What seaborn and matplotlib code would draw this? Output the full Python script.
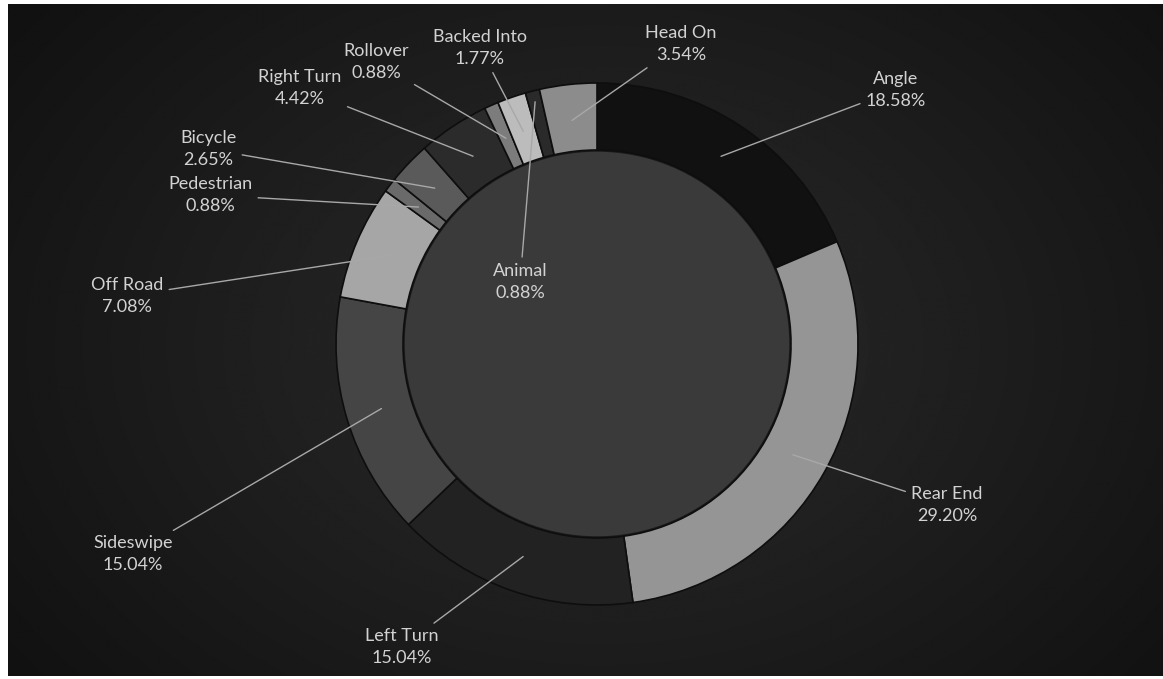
import numpy as np
import seaborn as sns
import matplotlib.pyplot as plt
from matplotlib.patches import Circle

# crash types, clockwise from 12 o'clock
categories = ["Angle", "Rear End", "Left Turn", "Sideswipe", "Off Road", "Pedestrian",
              "Bicycle", "Right Turn", "Rollover", "Backed Into", "Animal", "Head On"]
percents = [18.58, 29.20, 15.04, 15.04, 7.08, 0.88, 2.65, 4.42, 0.88, 1.77, 0.88, 3.54]

# grayscale fills
colors = ["#111111", "#959595", "#222222", "#454545", "#a6a6a6", "#6a6a6a",
          "#5a5a5a", "#2b2b2b", "#7c7c7c", "#bcbcbc", "#2a2a2a", "#8c8c8c"]

# label centres in image pixels (x, y from top)
label_pos = [(896, 90), (947, 505), (402, 647), (133, 554), (127, 296), (210, 195),
             (208, 149), (300, 88), (376, 62), (480, 48), (520, 282), (681, 44)]

W, H = 1163, 679
cx, cy = 597, 344
r_out, ring = 261, 67

sns.set_theme(style="dark")
plt.rcParams['font.family'] = ['Lato', 'DejaVu Sans']

fig = plt.figure(figsize=(W / 100, H / 100), dpi=100)
fig.set_facecolor('white')
ax = fig.add_axes([0, 0, 1, 1])
ax.set_facecolor('white')

# dark background with a soft lighter middle
yy, xx = np.mgrid[0:H, 0:W]
d = np.sqrt(((xx - cx) / 650.0) ** 2 + ((yy - cy) / 480.0) ** 2)
bg = np.clip(0.17 - 0.09 * d, 0.07, 0.2)
ax.imshow(bg, cmap='gray', vmin=0, vmax=1, extent=(8, W, 3, H - 4),
          origin='upper', zorder=0, interpolation='bilinear')

wedges, _ = ax.pie(percents, colors=colors, startangle=90, counterclock=False,
                   radius=r_out, center=(cx, H - cy),
                   wedgeprops=dict(width=ring, edgecolor='#0e0e0e', linewidth=1.2))
for w in wedges:
    w.set_zorder(2)

ax.add_patch(Circle((cx, H - cy), r_out - ring, facecolor='#3a3a3a',
                    edgecolor='#1a1a1a', linewidth=2.5, zorder=1.5))

for w, name, pct, (lx, ly) in zip(wedges, categories, percents, label_pos):
    theta = np.deg2rad((w.theta1 + w.theta2) / 2)
    r = 250 if name == "Animal" else 225
    px, py = cx + r * np.cos(theta), (H - cy) + r * np.sin(theta)
    ax.annotate(f"{name}\n{pct:.2f}%", xy=(px, py), xytext=(lx, H - ly),
                ha='center', va='center', fontsize=13, color='#d2d2d2',
                linespacing=1.45, zorder=4,
                arrowprops=dict(arrowstyle='-', color='#a8a8a8', lw=1,
                                shrinkA=2, shrinkB=0))

ax.set_xlim(0, W)
ax.set_ylim(0, H)
ax.set_aspect('equal')
ax.axis('off')

plt.savefig('out.png', dpi=100, facecolor=fig.get_facecolor())
